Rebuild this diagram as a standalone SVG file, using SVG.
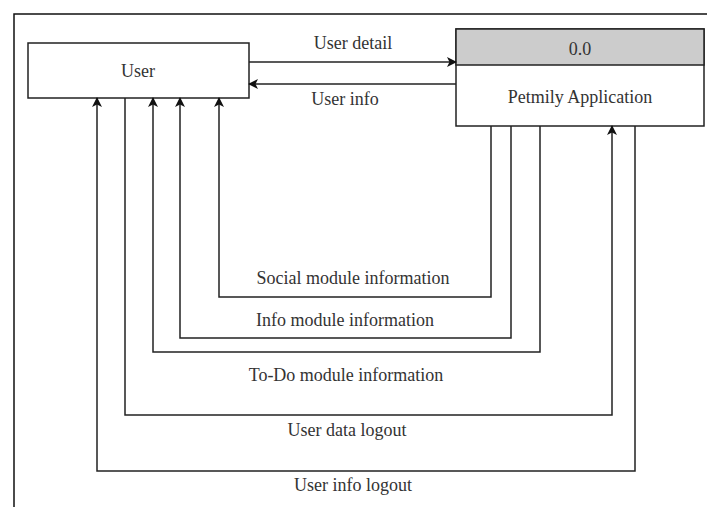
<svg xmlns="http://www.w3.org/2000/svg" width="707" height="507" viewBox="0 0 707 507">
  <style>
    .box { fill: #ffffff; stroke: #222222; stroke-width: 1.5; }
    .head { fill: #cccccc; stroke: #222222; stroke-width: 1.5; }
    .lbl { font-family: "Liberation Serif", "Times New Roman", serif; font-size: 18px; fill: #333333; text-anchor: middle; }
    .flow { fill: none; stroke: #222222; stroke-width: 1.5; }
    .flow.arrow { marker-end: url(#arrow); }
    .frame { fill: none; stroke: #111111; stroke-width: 1.5; }
  </style>
  <defs>
    <marker id="arrow" viewBox="0 0 10 10" refX="9" refY="5" markerWidth="10" markerHeight="10" markerUnits="userSpaceOnUse" orient="auto">
      <path d="M0,0 L10,5 L0,10 L2.5,5 Z" fill="#111111"/>
    </marker>
  </defs>
  <rect width="707" height="507" fill="#ffffff"/>

  <!-- page frame -->
  <path class="frame" d="M14,507 V14 H707"/>

  <!-- external entity -->
  <g id="user">
    <rect class="box" x="28" y="43" width="221" height="55"/>
    <text class="lbl" x="138" y="77">User</text>
  </g>

  <!-- process -->
  <g id="petmily-application">
    <rect class="box" x="456" y="29" width="248" height="97"/>
    <rect class="head" x="456" y="29" width="248" height="36"/>
    <text class="lbl" x="580" y="55">0.0</text>
    <text class="lbl" x="580" y="103">Petmily Application</text>
  </g>

  <!-- data flows -->
  <g id="connectors">
    <path class="flow arrow" d="M249,62 H456"/>
    <path class="flow arrow" d="M456,84 H249"/>
    <path class="flow arrow" d="M491,126 V297 H219 V98"/>
    <path class="flow arrow" d="M511,126 V338 H180 V98"/>
    <path class="flow arrow" d="M540,126 V352 H153 V98"/>
    <path class="flow arrow" d="M125,98 V415 H612 V126"/>
    <path class="flow arrow" d="M635,126 V471 H97 V98"/>
  </g>

  <!-- flow labels -->
  <g id="labels">
    <text class="lbl" x="353" y="49">User detail</text>
    <text class="lbl" x="345" y="105">User info</text>
    <text class="lbl" x="353" y="284">Social module information</text>
    <text class="lbl" x="345" y="326">Info module information</text>
    <text class="lbl" x="346" y="381">To-Do module information</text>
    <text class="lbl" x="347" y="436">User data logout</text>
    <text class="lbl" x="353" y="491">User info logout</text>
  </g>
</svg>
